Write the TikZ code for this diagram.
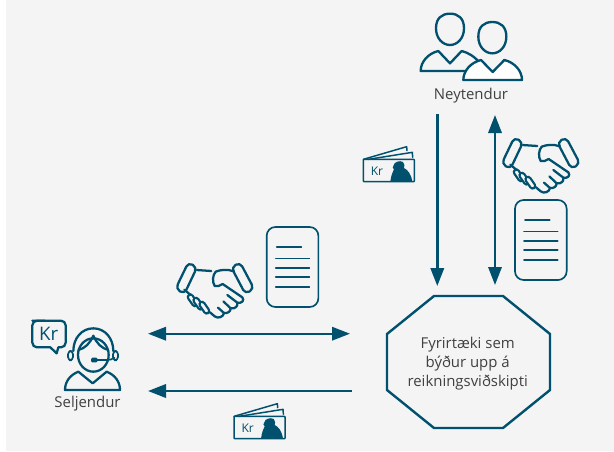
\documentclass[tikz,border=0pt]{standalone}
\usepackage{fontspec}
\setmainfont{Open Sans}
\usetikzlibrary{arrows.meta}
\definecolor{teal}{HTML}{00506E}
\definecolor{bgg}{HTML}{F4F4F4}
\definecolor{txt}{HTML}{404040}
\tikzset{
  x=0.75pt,y=-0.75pt,
  flow/.style={draw=teal,line width=1.9pt,-{Triangle[length=13.5pt,width=10pt]}},
  flowb/.style={draw=teal,line width=1.7pt,{Triangle[length=13.5pt,width=10pt]}-{Triangle[length=13.5pt,width=10pt]}},
  ico/.style={draw=teal,line width=1.7pt,line join=round,line cap=round},
  thin ico/.style={draw=teal,line width=1.25pt,line join=round,line cap=round},
  lab/.style={text=txt,font=\fontsize{11.2}{14.25}\selectfont,align=center,inner sep=0pt},
  capsule/.pic={
    \draw[teal,line width=5.5pt,line cap=round] (-7,-10) -- (7,10);
    \draw[bgg,line width=2.1pt,line cap=round] (-7,-10) -- (7,10);
  },
  handshake/.pic={
    \begin{scope}[x=.25pt,y=-.25pt,ico]
      \draw[rounded corners=3.5pt] (43,22) -- (69,37) -- (31,117) -- (5,101) -- cycle;
      \draw[rounded corners=3.5pt] (198,22) -- (172,37) -- (214,117) -- (240,101) -- cycle;
      \draw (68,45) -- (112,48);
      \draw (180,49) .. controls (160,42) and (140,44) .. (125,50) .. controls (116,60) and (114,80) .. (122,93) .. controls (130,96) and (138,92) .. (146,87) -- (205,127) .. controls (212,136) and (204,146) .. (190,143) -- (160,120);
      \draw (190,143) .. controls (192,152) and (186,162) .. (170,160) -- (148,139);
      \draw (170,160) .. controls (170,170) and (160,176) .. (150,174) -- (132,158);
      \draw (150,174) .. controls (148,186) and (132,192) .. (122,184) -- (108,172);
      \draw (31,104) -- (50,120);
      \pic at (56,136) {capsule};
      \pic at (73,146) {capsule};
      \pic at (91,158) {capsule};
    \end{scope}
  },
  document/.pic={
    \begin{scope}[x=.25pt,y=-.25pt,thin ico]
      \draw[rounded corners=6.5pt] (495,270) rectangle (650,510);
      \draw (525,330) -- (599,330);
      \draw (522,364) -- (623,364);
      \draw (522,392) -- (623,392);
      \draw (522,420) -- (623,420);
      \draw (522,449) -- (623,449);
    \end{scope}
  },
  money/.pic={
    \begin{scope}[x=.25pt,y=-.25pt]
      \draw[thin ico,line width=1.1pt,rounded corners=.5pt] (25,58) rectangle (178,125);
      \draw[thin ico,line width=1.1pt] (25,58) -- (155,20) -- (156,32);
      \draw[thin ico,line width=1.1pt] (40,58) -- (172,37) -- (173,52);
      \fill[teal] (106,125) .. controls (108,105) and (114,95) .. (117,88) .. controls (112,86) and (112,80) .. (116,76) .. controls (117,66) and (134,60) .. (144,66) .. controls (150,70) and (148,80) .. (147,84) .. controls (158,90) and (168,100) .. (172,125) -- cycle;
      \node[inner sep=0pt,text=teal,font=\fontsize{9}{10}\selectfont] (kr) at (66,93) {Kr};
    \end{scope}
  },
}
\begin{document}
\begin{tikzpicture}
  \useasboundingbox (0,0) rectangle (614,451);
  \fill[bgg] (6,0) rectangle (614,451);

  % Octagon
  \draw[teal,line width=1.8pt,line join=miter] (434,296) -- (503,296) -- (550,334) -- (550,390) -- (503,428) -- (434,428) -- (387,390) -- (387,334) -- cycle;
  \node[lab] (firm) at (467.7,363.7) {Fyrirtæki sem\\býður upp á\\reikningsviðskipti};

  % Labels
  \node[lab,anchor=base] (neyt) at (471,99) {Neytendur};
  \node[lab,anchor=base] (selj) at (87.5,407) {Seljendur};

  % Arrow end points
  \coordinate (a1) at (437.3,114);
  \coordinate (a2) at (437.3,286);
  \coordinate (b1) at (495,115);
  \coordinate (b2) at (495,285);
  \coordinate (c1) at (148,333.7);
  \coordinate (c2) at (350,333.7);
  \coordinate (d1) at (352,391);
  \coordinate (d2) at (148,391);
  \draw[flow] (a1) -- (a2);
  \draw[flowb] (b1) -- (b2);
  \draw[flowb] (c1) -- (c2);
  \draw[flow] (d1) -- (d2);

  % People (upper right)
  \begin{scope}[shift={(400,0)},x=.25pt,y=-.25pt,line width=1.75pt]
    \draw[teal] (108,85) .. controls (108,55) and (125,41) .. (150,41) .. controls (175,41) and (192,55) .. (192,85) .. controls (192,115) and (172,135) .. (150,135) .. controls (128,135) and (108,115) .. (108,85) -- cycle;
    \draw[teal,line join=round] (240,190) .. controls (225,170) and (205,158) .. (185,153) -- (150,190) -- (115,153) .. controls (85,160) and (62,185) .. (62,213) -- (195,213);
    \draw[teal] (235,110) .. controls (235,80) and (252,66) .. (277,66) .. controls (302,66) and (319,80) .. (319,110) .. controls (319,140) and (299,160) .. (277,160) .. controls (255,160) and (235,140) .. (235,110) -- cycle;
    \draw[teal,fill=white,line join=round] (190,240) .. controls (190,212) and (213,187) .. (243,180) -- (278,216) -- (313,180) .. controls (343,187) and (366,212) .. (366,240) -- cycle;
  \end{scope}

  % Seller (left)
  \begin{scope}[shift={(25,315)},x=.25pt,y=-.25pt]
    \draw[ico] (145,108) .. controls (145,70) and (170,40) .. (205,40) .. controls (240,40) and (265,70) .. (265,108);
    \draw[ico] (205,120) ++(0:46) arc[start angle=0,end angle=360,x radius=46,y radius=50];
    \draw[ico] (160,105) .. controls (180,100) and (195,85) .. (205,62) .. controls (215,85) and (230,100) .. (250,105);
    \draw[thin ico,rounded corners=2.5pt] (129,108) rectangle (144,136);
    \draw[thin ico,rounded corners=2.5pt] (264,108) rectangle (279,136);
    \draw[thin ico] (210,135) -- (245,135) .. controls (255,135) and (262,133) .. (268,128);
    \fill[teal,rounded corners=1pt] (198,128) rectangle (218,142);
    \draw[ico] (120,225) .. controls (120,200) and (135,180) .. (160,170) -- (203,205) -- (245,170) .. controls (270,180) and (285,200) .. (285,225) -- cycle;
    \draw[ico,rounded corners=3.5pt] (22,17) -- (122,17) -- (122,97) -- (100,97);
    \draw[ico] (100,97) -- (95,115) -- (76,97);
    \draw[ico,rounded corners=3.5pt] (76,97) -- (22,97) -- (22,17) -- (60,17);
    \node[inner sep=0pt,text=teal,font=\fontsize{14}{16}\selectfont] (krb) at (71,57) {Kr};
  \end{scope}

  % Icons
  \pic at (500,130) {handshake};
  \pic at (174,255) {handshake};
  \pic at (350,110) {document};
  \pic at (101.7,137) {document};
  \pic at (355,140) {money};
  \pic at (225.7,397) {money};
\end{tikzpicture}
\end{document}
